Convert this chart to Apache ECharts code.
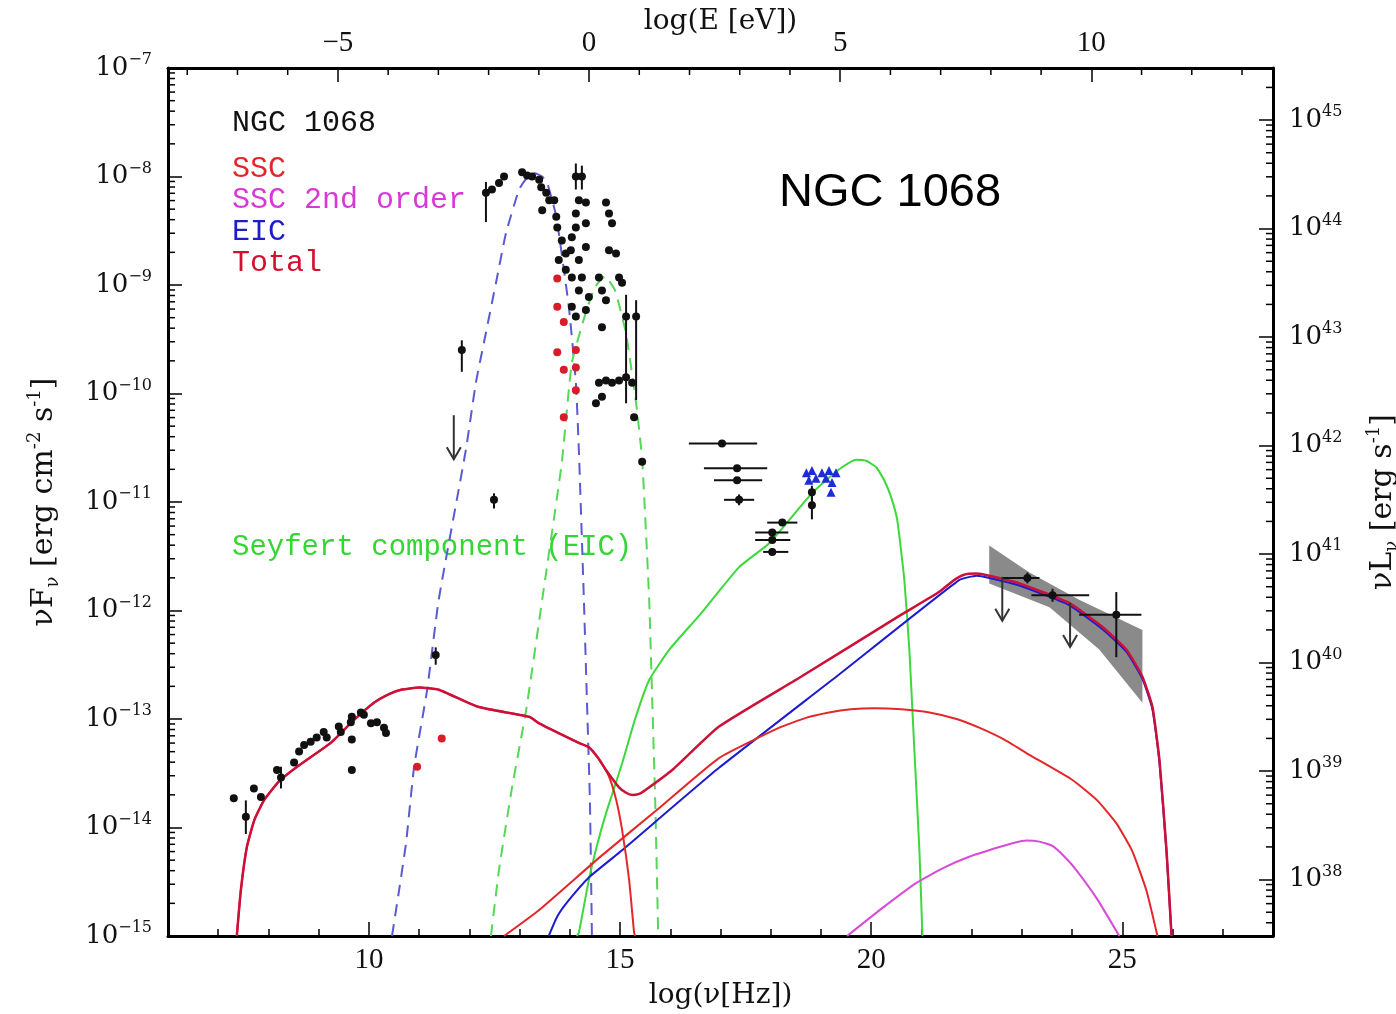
<!DOCTYPE html>
<html>
<head>
<meta charset="utf-8">
<title>NGC 1068 SED</title>
<script src="https://cdn.jsdelivr.net/npm/echarts@6/dist/echarts.min.js"></script>
<style>
  html, body { margin: 0; padding: 0; background: #fff; }
  #sed { width: 1396px; height: 1014px; }
</style>
</head>
<body>
<div id="sed"></div>
<script>
// all values are [log(nu [Hz]), log(nuFnu [erg cm^-2 s^-1])]
var totalCurve = [[7.37,-15],[7.45,-14.58],[7.57,-14.18],[7.72,-13.93],[7.91,-13.75],[8.2,-13.58],[8.57,-13.44],[9.24,-13.22],[9.70,-13.01],
  [10.10,-12.85],[10.4,-12.77],[10.64,-12.73],[11.0,-12.71],[11.39,-12.73],[12.19,-12.89],[13.19,-12.98],[13.39,-13.04],
  [14.18,-13.22],[14.38,-13.26],[14.55,-13.35],[14.72,-13.47],[14.98,-13.63],[15.12,-13.68],[15.24,-13.70],[15.38,-13.69],[15.52,-13.65],[16.04,-13.47],
  [16.97,-13.07],[18.57,-12.62],[20.56,-12.05],[21.35,-11.83],[21.65,-11.72],[21.85,-11.67],[22.1,-11.66],[22.35,-11.68],[22.95,-11.75],
  [23.94,-11.93],[24.60,-12.15],[25.08,-12.36],[25.40,-12.61],[25.60,-12.89],[25.74,-13.38],[25.88,-14.21],[25.98,-15]];
var sscSync = [[7.37,-15],[7.45,-14.58],[7.57,-14.18],[7.72,-13.93],[7.91,-13.75],[8.2,-13.58],[8.57,-13.44],[9.24,-13.22],[9.70,-13.01],
  [10.10,-12.85],[10.4,-12.77],[10.64,-12.73],[11.0,-12.71],[11.39,-12.73],[12.19,-12.89],[13.19,-12.98],[13.39,-13.04],
  [14.18,-13.22],[14.38,-13.26],[14.6,-13.38],[14.78,-13.53],[14.92,-13.74],[15.04,-14.02],[15.18,-14.48],[15.28,-14.97],[15.30,-15]];
var sscCompton = [[12.69,-15],[13.39,-14.76],[14.58,-14.28],[15.78,-13.82],[16.97,-13.36],[18.17,-13.08],
  [18.7,-12.99],[19.16,-12.94],[19.6,-12.91],[20.06,-12.90],[20.6,-12.91],[21.16,-12.94],[21.7,-13.0],[22.15,-13.08],[22.65,-13.19],[23.15,-13.33],[24.00,-13.56],
  [24.5,-13.75],[24.88,-13.96],[25.2,-14.22],[25.48,-14.58],[25.70,-15]];
var sscSecond = [[19.52,-15],[20.2,-14.75],[20.90,-14.51],[21.45,-14.37],[21.95,-14.27],[22.55,-14.18],[22.85,-14.14],[23.09,-14.12],[23.35,-14.13],[23.61,-14.17],
  [23.85,-14.27],[24.08,-14.39],[24.5,-14.66],[24.94,-15]];
var eicCurve = [[13.58,-15],[13.75,-14.82],[13.98,-14.67],[14.38,-14.46],[15.04,-14.21],[16.97,-13.45],[19.36,-12.59],
  [21.75,-11.72],[22.1,-11.68],[22.35,-11.70],[22.95,-11.77],[23.94,-11.95],[24.60,-12.17],[25.08,-12.38],[25.40,-12.63],
  [25.60,-12.91],[25.74,-13.40],[25.88,-14.23],[25.98,-15]];
var seyfertCurve = [[14.14,-15],[14.18,-14.97],[14.38,-14.48],[14.55,-14.15],[14.72,-13.87],[15.04,-13.41],[15.3,-13.0],[15.58,-12.64],
  [16.0,-12.35],[16.57,-12.05],[17.37,-11.60],[17.97,-11.38],[18.76,-10.95],[19.1,-10.80],[19.42,-10.68],[19.70,-10.61],[19.90,-10.62],
  [20.1,-10.68],[20.26,-10.80],[20.4,-10.96],[20.52,-11.17],[20.66,-11.72],[20.76,-12.36],[20.86,-13.29],[20.96,-14.21],[21.02,-15]];
var blueDashed = [[10.46,-15],[10.60,-14.58],[10.74,-14.14],[10.90,-13.44],[11.16,-12.73],[11.39,-11.90],
  [11.93,-10.52],[12.13,-9.90],[12.33,-9.44],[12.53,-8.98],[12.73,-8.52],[12.99,-8.12],[13.15,-8.01],[13.30,-7.97],
  [13.45,-8.0],[13.55,-8.06],[13.73,-8.37],[13.98,-9.20],[14.12,-9.90],[14.18,-10.52],[14.28,-11.90],[14.34,-12.82],
  [14.40,-13.75],[14.44,-15]];
var greenDashed = [[12.43,-15],[12.59,-14.39],[12.85,-13.63],[13.13,-12.92],[13.45,-11.90],[13.84,-10.64],
  [14.04,-9.72],[14.32,-9.25],[14.5,-9.02],[14.7,-8.92],[14.9,-9.05],[15.12,-9.45],[15.32,-10.09],[15.44,-10.61],
  [15.58,-11.90],[15.64,-12.82],[15.70,-13.75],[15.76,-15]];

// data points without error bars
var blackPts = [[7.31,-13.73],[7.71,-13.64],[7.85,-13.72],[8.17,-13.47],[8.51,-13.40],[8.61,-13.30],
  [8.71,-13.24],[8.84,-13.21],[8.96,-13.17],[9.10,-13.12],[9.16,-13.17],[9.40,-13.07],[9.44,-13.12],
  [9.64,-13.03],[9.66,-12.98],[9.66,-13.19],[9.66,-13.47],[9.84,-12.94],[9.90,-12.96],[10.04,-13.04],
  [10.16,-13.03],[10.30,-13.08],[10.34,-13.13],
  [12.45,-8.12],[12.59,-8.06],[12.69,-8.00],[13.05,-7.96],[13.15,-7.99],[13.25,-8.00],[13.39,-8.03],
  [13.43,-8.10],[13.53,-8.15],[13.45,-8.31],[13.59,-8.22],[13.69,-8.22],[13.73,-8.37],[13.75,-8.47],
  [13.84,-8.59],[13.92,-8.71],[13.78,-8.77],[14.02,-8.68],[14.04,-8.56],[14.12,-8.47],[14.12,-8.34],
  [14.18,-8.22],[14.32,-8.24],[14.32,-8.43],[14.72,-8.24],[14.78,-8.34],[14.84,-8.43],[13.92,-8.86],
  [14.04,-8.93],[14.18,-8.77],[14.32,-8.65],[14.24,-8.93],[14.18,-9.05],[14.38,-9.11],[14.58,-8.93],
  [14.64,-9.05],[14.78,-8.68],[14.92,-8.71],[14.98,-8.93],[14.72,-9.14],[14.64,-9.39],[14.32,-9.23],
  [14.12,-9.29],[14.04,-9.20],[15.04,-8.98],[14.58,-9.90],[14.52,-10.09],[14.72,-9.88],[14.84,-9.90],
  [14.98,-9.88],[15.12,-9.85],[15.24,-9.90],[15.28,-10.22],[15.44,-10.63],[14.64,-10.03]];
// [x, y, xLow, xHigh, yLow, yHigh]
var blackErr = [[7.55,-13.90,7.55,7.55,-13.75,-14.06],[8.25,-13.54,8.25,8.25,-13.44,-13.64],
  [11.85,-9.60,11.85,11.85,-9.51,-9.80],[11.33,-12.41,11.33,11.33,-12.34,-12.50],
  [12.49,-10.98,12.49,12.49,-10.92,-11.06],[12.33,-8.15,12.33,12.33,-8.05,-8.42],
  [14.12,-8.00,14.12,14.12,-7.88,-8.12],[14.24,-8.00,14.24,14.24,-7.90,-8.12],
  [15.12,-9.29,15.12,15.12,-9.09,-10.09],[15.32,-9.29,15.32,15.32,-9.14,-10.06],
  [17.03,-10.46,16.37,17.73,-10.46,-10.46],[17.33,-10.69,16.67,17.93,-10.69,-10.69],
  [17.33,-10.80,16.87,17.83,-10.80,-10.80],[17.37,-10.98,17.07,17.67,-10.93,-11.03],
  [18.23,-11.19,17.93,18.53,-11.19,-11.19],[18.03,-11.28,17.69,18.35,-11.28,-11.28],
  [18.03,-11.35,17.69,18.39,-11.35,-11.35],[18.03,-11.46,17.85,18.35,-11.46,-11.46],
  [18.82,-10.91,18.82,18.82,-10.85,-10.98],[18.82,-11.03,18.82,18.82,-10.95,-11.16],
  [23.11,-11.70,22.61,23.35,-11.65,-11.75],[23.61,-11.86,23.19,24.34,-11.80,-11.92],
  [24.88,-12.04,24.14,25.38,-11.83,-12.43]];
var upperLimits = [[11.69,-10.20],[22.61,-11.69],[23.96,-11.93]];
var redPts = [[10.96,-13.44],[11.45,-13.18],[13.75,-8.94],[13.75,-9.20],[13.88,-9.34],[13.75,-9.62],
  [13.88,-9.78],[14.12,-9.60],[14.12,-9.76],[14.12,-9.97],[13.88,-10.22]];
var bluePts = [[18.71,-10.73],[18.82,-10.71],[18.90,-10.78],[19.02,-10.73],[19.16,-10.71],[19.22,-10.82],
  [19.20,-10.91],[18.76,-10.80],[19.10,-10.78],[19.30,-10.73]];
var butterfly = [[22.35,-11.40],[23.15,-11.65],[24.14,-11.90],[25.40,-12.18],[25.40,-12.85],[24.54,-12.36],
  [23.55,-11.97],[22.35,-11.75]];

// tick values
var nuMin = 6, nuMax = 28;
var eShift = 14.383;          // log(nu) at E = 1 eV
var lumShift = 52.48;         // log(nuL) - log(nuF)
var topMinor = [-8,-7,-6,-4,-3,-2,-1,1,2,3,4,6,7,8,9,11,12,13];
var leftMinor = [], rightMinor = [];
for (var d = -15; d < -7; d++) for (var k = 2; k < 10; k++) leftMinor.push([d + Math.log10(k)]);
for (var d2 = 37; d2 < 46; d2++) for (var k2 = 2; k2 < 10; k2++) {
  var v = d2 + Math.log10(k2);
  if (v > 37.48 && v < 45.48) rightMinor.push([v]);
}

var sedDiv = document.getElementById('sed');
var sedChart = echarts.init(sedDiv);

function supLabel(v) {
  return '{b|10}{s|' + String(v).replace('-', '\u2212') + '}';
}
var supRich = {
  b: { fontFamily: 'DejaVu Serif', fontSize: 26, lineHeight: 32, color: '#111' },
  s: { fontFamily: 'DejaVu Serif', fontSize: 16, lineHeight: 17, verticalAlign: 'top', color: '#111' }
};
var nameRich = {
  i: { fontFamily: 'DejaVu Serif', fontSize: 30, lineHeight: 36, color: '#111' },
  sb: { fontFamily: 'DejaVu Serif', fontSize: 18, lineHeight: 19, verticalAlign: 'bottom', color: '#111' },
  sp: { fontFamily: 'DejaVu Serif', fontSize: 18, lineHeight: 19, verticalAlign: 'top', color: '#111' }
};

function lineSeries(name, data, color, dashed, width) {
  return {
    name: name, type: 'line', data: data, showSymbol: false, smooth: 0.15,
    lineStyle: { color: color, width: width || 2, type: dashed ? [12, 8] : 'solid' },
    silent: true, z: 3
  };
}

function tickSeries(data, side) {
  return {
    type: 'custom', silent: true, z: 10, data: data,
    xAxisIndex: side === 'top' ? 2 : 0,
    yAxisIndex: side === 'right' ? 1 : 0,
    renderItem: function (params, api) {
      var p, shape;
      if (side === 'left') { p = api.coord([nuMin, api.value(0)]); shape = { x1: p[0], y1: p[1], x2: p[0] + 7, y2: p[1] }; }
      else if (side === 'right') { p = api.coord([nuMin, api.value(0)]); p[0] = api.coord([nuMax, -15])[0]; shape = { x1: p[0], y1: p[1], x2: p[0] - 7, y2: p[1] }; }
      else { p = api.coord([api.value(0), -7]); shape = { x1: p[0], y1: p[1], x2: p[0], y2: p[1] + 7 }; }
      return { type: 'line', shape: shape, style: { stroke: '#000', lineWidth: 1.5 } };
    }
  };
}

var axisLineStyle = { onZero: false, lineStyle: { color: '#000', width: 3 } };
var majorTick = { inside: true, length: 14, lineStyle: { color: '#000', width: 1.5 } };

option = {
  animation: false,
  backgroundColor: '#fff',
  grid: { left: 168, right: 123, top: 68, bottom: 78, containLabel: false, outerBoundsMode: 'none' },
  xAxis: [
    {
      type: 'value', min: nuMin, max: nuMax, interval: 1, position: 'bottom',
      name: 'log(\u03bd[Hz])', nameLocation: 'middle', nameGap: 46, nameMoveOverlap: false,
      nameTextStyle: { fontFamily: 'DejaVu Serif', fontSize: 28, color: '#111' },
      axisLine: axisLineStyle,
      axisTick: { inside: true, length: 7, lineStyle: { color: '#000', width: 1.5 } },
      axisLabel: { margin: 10, fontFamily: 'Liberation Serif', fontSize: 29, color: '#111',
        formatter: function (v) { return v % 5 === 0 ? v : ''; } },
      splitLine: { show: false }
    },
    {
      type: 'value', min: nuMin, max: nuMax, splitNumber: 4, position: 'bottom',
      axisLine: { show: false, onZero: false }, axisLabel: { show: false },
      axisTick: majorTick,
      splitLine: { show: false }
    },
    {
      type: 'value', min: nuMin - eShift, max: nuMax - eShift, splitNumber: 4, position: 'top',
      name: 'log(E [eV])', nameLocation: 'middle', nameGap: 32, nameMoveOverlap: false,
      nameTextStyle: { fontFamily: 'DejaVu Serif', fontSize: 28, color: '#111' },
      axisLine: axisLineStyle,
      axisTick: majorTick,
      axisLabel: { margin: 10, fontFamily: 'Liberation Serif', fontSize: 29, color: '#111',
        showMinLabel: false, showMaxLabel: false,
        formatter: function (v) { return String(v).replace('-', '\u2212'); } },
      splitLine: { show: false }
    }
  ],
  yAxis: [
    {
      type: 'value', min: -15, max: -7, interval: 1,
      name: '{i|\u03bdF}{sb|\u03bd}{i| [erg cm}{sp|-2}{i| s}{sp|-1}{i|]}',
      nameLocation: 'middle', nameGap: 106, nameRotate: 90, nameMoveOverlap: false,
      nameTextStyle: { rich: nameRich },
      axisLine: axisLineStyle,
      axisTick: majorTick,
      axisLabel: { margin: 16, formatter: supLabel, rich: supRich },
      splitLine: { show: false }
    },
    {
      type: 'value', min: -15 + lumShift, max: -7 + lumShift, splitNumber: 8, position: 'right',
      name: '{i|\u03bdL}{sb|\u03bd}{i| [erg s}{sp|-1}{i|]}',
      nameLocation: 'middle', nameGap: 92, nameRotate: 90, nameMoveOverlap: false,
      nameTextStyle: { rich: nameRich },
      axisLine: axisLineStyle,
      axisTick: majorTick,
      axisLabel: { margin: 16, showMinLabel: false, showMaxLabel: false, formatter: supLabel, rich: supRich },
      splitLine: { show: false }
    }
  ],
  graphic: [
    { type: 'text', left: 232, top: 108, style: { text: 'NGC 1068', fill: '#111', font: '30px "Liberation Mono"' } },
    { type: 'text', left: 232, top: 154, style: { text: 'SSC', fill: '#e0282c', font: '30px "Liberation Mono"' } },
    { type: 'text', left: 232, top: 185, style: { text: 'SSC 2nd order', fill: '#d838d8', font: '30px "Liberation Mono"' } },
    { type: 'text', left: 232, top: 217, style: { text: 'EIC', fill: '#1c1cc8', font: '30px "Liberation Mono"' } },
    { type: 'text', left: 232, top: 248, style: { text: 'Total', fill: '#d0102c', font: '30px "Liberation Mono"' } },
    { type: 'text', left: 232, top: 533, style: { text: 'Seyfert component (EIC)', fill: '#33d633', font: '29px "Liberation Mono"' } },
    { type: 'text', left: 779, top: 170, style: { text: 'NGC 1068', fill: '#000', font: '47px "Liberation Sans"' } }
  ],
  series: [
    {
      type: 'custom', silent: true, z: 1, data: butterfly,
      renderItem: function (params, api) {
        if (params.dataIndex !== 0) return null;
        return { type: 'polygon', shape: { points: butterfly.map(function (p) { return api.coord(p); }) },
          style: { fill: '#8a8a8a' } };
      }
    },
    lineSeries('blue dashed', blueDashed, '#5a5ad2', true, 2),
    lineSeries('green dashed', greenDashed, '#55d855', true, 2),
    lineSeries('Seyfert', seyfertCurve, '#3cd83c', false, 2),
    lineSeries('EIC', eicCurve, '#1c1cd0', false, 2),
    lineSeries('SSC 2nd order', sscSecond, '#d84ad8', false, 2),
    lineSeries('SSC', sscSync, '#e3282a', false, 2),
    lineSeries('SSC', sscCompton, '#e3282a', false, 2),
    lineSeries('Total', totalCurve, '#cc1038', false, 2.5),
    {
      type: 'custom', silent: true, z: 6, data: blackErr,
      renderItem: function (params, api) {
        var c = api.coord([api.value(0), api.value(1)]);
        var xl = api.coord([api.value(2), api.value(1)]);
        var xh = api.coord([api.value(3), api.value(1)]);
        var yl = api.coord([api.value(0), api.value(4)]);
        var yh = api.coord([api.value(0), api.value(5)]);
        var st = { stroke: '#111', lineWidth: 2 };
        return { type: 'group', children: [
          { type: 'line', shape: { x1: xl[0], y1: c[1], x2: xh[0], y2: c[1] }, style: st },
          { type: 'line', shape: { x1: c[0], y1: yl[1], x2: c[0], y2: yh[1] }, style: st },
          { type: 'circle', shape: { cx: c[0], cy: c[1], r: 4 }, style: { fill: '#111' } }
        ] };
      }
    },
    {
      type: 'custom', silent: true, z: 6, data: upperLimits,
      renderItem: function (params, api) {
        var c = api.coord([api.value(0), api.value(1)]);
        var st = { stroke: '#333', lineWidth: 2, fill: null };
        return { type: 'group', children: [
          { type: 'line', shape: { x1: c[0], y1: c[1], x2: c[0], y2: c[1] + 44 }, style: st },
          { type: 'polyline', shape: { points: [[c[0] - 7, c[1] + 32], [c[0], c[1] + 44], [c[0] + 7, c[1] + 32]] }, style: st }
        ] };
      }
    },
    { type: 'scatter', data: blackPts, symbolSize: 8, itemStyle: { color: '#111', opacity: 1 }, silent: true, z: 6 },
    { type: 'scatter', data: redPts, symbolSize: 8, itemStyle: { color: '#d81c28', opacity: 1 }, silent: true, z: 6 },
    { type: 'scatter', data: bluePts, symbol: 'triangle', symbolSize: 9, itemStyle: { color: '#1c2cd8', opacity: 1 }, silent: true, z: 6 },
    tickSeries(leftMinor, 'left'),
    tickSeries(rightMinor, 'right'),
    tickSeries(topMinor.map(function (e) { return [e]; }), 'top')
  ]
};

option && sedChart.setOption(option);
</script>
</body>
</html>
